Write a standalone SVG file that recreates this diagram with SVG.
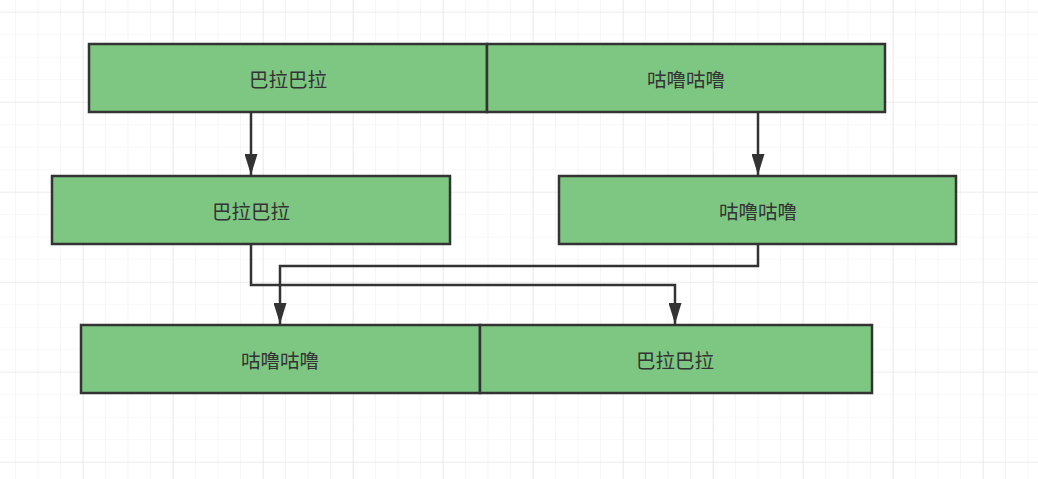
<svg xmlns="http://www.w3.org/2000/svg" width="1038" height="479" viewBox="0 0 1038 479">
<defs>
<pattern id="minor" x="15" y="11.7" width="22.5" height="22.5" patternUnits="userSpaceOnUse">
<path d="M0 0H22.5M0 0V22.5" fill="none" stroke="#f0f0f0" stroke-width="1.2"/>
</pattern>
<pattern id="major" x="82.7" y="11.7" width="90" height="90" patternUnits="userSpaceOnUse">
<path d="M0 0H90M0 0V90" fill="none" stroke="#e4e4e4" stroke-width="1.2"/>
</pattern>
<marker id="arr" markerUnits="userSpaceOnUse" markerWidth="21" markerHeight="13" refX="21" refY="6.5" orient="auto" viewBox="0 0 21 13">
<path d="M0 0L21 6.5L0 13Z" fill="#333"/>
</marker>
</defs>
<style>
.box{fill:#7ec783;stroke:#333;stroke-width:2.5}
.lbl{font-family:"Noto Sans CJK SC","Noto Sans",sans-serif;font-size:19.5px;fill:#333;text-anchor:middle;dominant-baseline:central}
.edge{fill:none;stroke:#333;stroke-width:2.5;marker-end:url(#arr)}
</style>
<rect width="1038" height="479" fill="#fff"/>
<rect width="1038" height="479" fill="url(#minor)"/>
<rect width="1038" height="479" fill="url(#major)"/>
<g id="connectors">
<path class="edge" d="M251 112V175"/>
<path class="edge" d="M758 112V175"/>
<path class="edge" d="M251 244V285H675V324"/>
<path class="edge" d="M758 244V266H280V324"/>
</g>
<g id="nodeA"><rect class="box" x="89" y="44" width="398" height="68"/><text class="lbl" x="288" y="78">巴拉巴拉</text></g>
<g id="nodeB"><rect class="box" x="487" y="44" width="398" height="68"/><text class="lbl" x="686" y="78">咕噜咕噜</text></g>
<g id="nodeC"><rect class="box" x="52" y="176" width="398" height="68"/><text class="lbl" x="251" y="210">巴拉巴拉</text></g>
<g id="nodeD"><rect class="box" x="559" y="176" width="397" height="68"/><text class="lbl" x="758" y="210">咕噜咕噜</text></g>
<g id="nodeE"><rect class="box" x="81" y="325" width="399" height="68"/><text class="lbl" x="280" y="359">咕噜咕噜</text></g>
<g id="nodeF"><rect class="box" x="480" y="325" width="392" height="68"/><text class="lbl" x="675" y="359">巴拉巴拉</text></g>
</svg>
